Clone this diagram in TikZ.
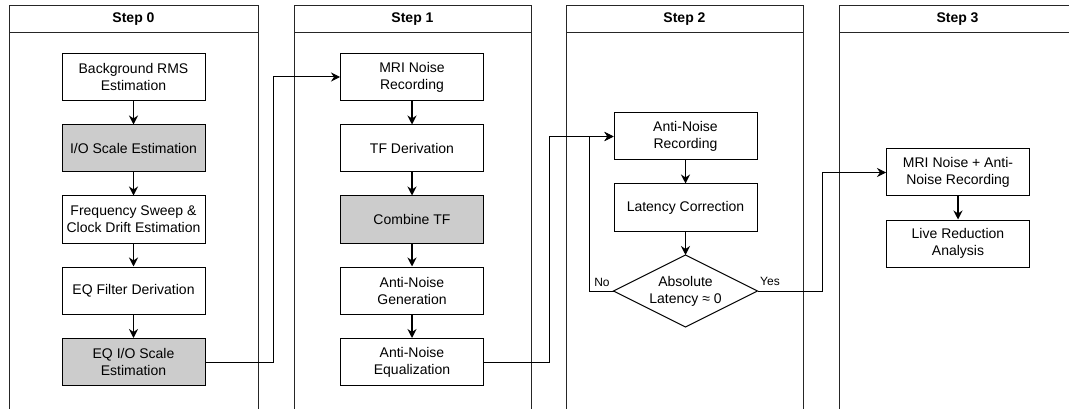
\documentclass[tikz,border=0pt]{standalone}
\usepackage{fontspec}
\setmainfont{Liberation Sans}
\usetikzlibrary{arrows.meta}
\begin{document}
\begin{tikzpicture}[x=1pt,y=-1pt,
  box/.style={draw, line width=1pt, minimum width=143pt, minimum height=47pt, inner sep=0pt, align=center, font=\fontsize{14}{17}\selectfont},
  gbox/.style={box, fill=gray!40},
  flow/.style={line width=1.5pt, -{Stealth[length=9pt,width=9pt,inset=3pt]}},
  link/.style={line width=1pt, -{Stealth[length=9pt,width=9pt,inset=3pt]}},
  lane/.style={line width=1pt, draw=black!85},
  hdr/.style={font=\fontsize{14}{17}\selectfont\bfseries, inner sep=0pt},
  lbl/.style={font=\fontsize{12}{14}\selectfont, inner sep=0pt}
]
\clip (0,0) rectangle (1069,409);
\fill[white] (0,0) rectangle (1069,409);

% lanes
\foreach \a/\b in {9/258, 294/531, 566/803, 839/1076}{
  \draw[lane] (\a,412) -- (\a,6) -- (\b,6) -- (\b,412);
  \draw[lane] (\a,33) -- (\b,33);
}
\node[hdr] (h0) at (133.5,19.5) {Step 0};
\node[hdr] (h1) at (412.5,19.5) {Step 1};
\node[hdr] (h2) at (684.5,19.5) {Step 2};
\node[hdr] (h3) at (957.5,19.5) {Step 3};

% Step 0
\node[box]  (b1) at (133.5,77)    {Background RMS\\Estimation};
\node[gbox] (b2) at (133.5,148.5) {I/O Scale Estimation};
\node[box]  (b3) at (133.5,219.5) {Frequency Sweep \&\\Clock Drift Estimation};
\node[box]  (b4) at (133.5,290.5) {EQ Filter Derivation};
\node[gbox] (b5) at (133.5,362)   {EQ I/O Scale\\Estimation};

% Step 1
\node[box]  (m1) at (412,77)    {MRI Noise\\Recording};
\node[box]  (m2) at (412,148.5) {TF Derivation};
\node[gbox] (m3) at (412,219.5) {Combine TF};
\node[box]  (m4) at (412,290.5) {Anti-Noise\\Generation};
\node[box]  (m5) at (412,362)   {Anti-Noise\\Equalization};

% Step 2
\node[box] (a1) at (685.5,136.5) {Anti-Noise\\Recording};
\node[box] (a2) at (685.5,207.5) {Latency Correction};
\node[box, draw=none, minimum height=71pt] (dec) at (685.5,291) {Absolute\\Latency ≈ 0};
\draw[line width=1pt] (dec.west) -- (dec.north) -- (dec.east) -- (dec.south) -- cycle;

% Step 3
\node[box] (r1) at (958,172.5) {MRI Noise + Anti-\\Noise Recording};
\node[box] (r2) at (958,243.5) {Live Reduction\\Analysis};

% flows
\draw[flow] (b1) -- (b2);
\draw[flow] (b2) -- (b3);
\draw[flow] (b3) -- (b4);
\draw[flow] (b4) -- (b5);
\draw[flow] (m1) -- (m2);
\draw[flow] (m2) -- (m3);
\draw[flow] (m3) -- (m4);
\draw[flow] (m4) -- (m5);
\draw[flow] (a1) -- (a2);
\draw[flow] (a2) -- (dec.north);
\draw[flow] (r1) -- (r2);

% links between lanes
\draw[link] (b5.east) -- ++(68,0) |- (m1.west);
\draw[link] (m5.east) -- ++(65,0) |- (a1.west);
\draw[link] (dec.west) -- ++(-24,0) |- (a1.west);
\draw[link] (dec.east) -- ++(65,0) |- (r1.west);

\node[lbl] (no) at (602,282) {No};
\node[lbl] (yes) at (770,281) {Yes};
\end{tikzpicture}
\end{document}
